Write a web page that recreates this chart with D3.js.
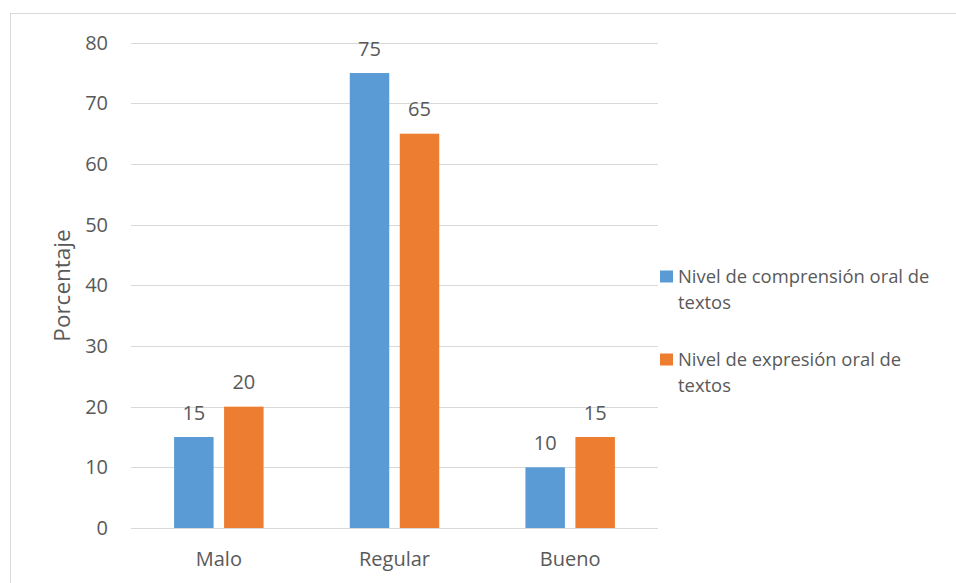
<!DOCTYPE html>
<html><head><meta charset="utf-8">
<script src="https://cdn.jsdelivr.net/npm/d3@7"></script>
<style>body{margin:0;background:#fff}svg{display:block}text{font-family:"Open Sans",sans-serif;fill:#595959}</style>
</head><body><svg id="c" width="956" height="583"></svg>
<script>
const categories = ["Malo", "Regular", "Bueno"];
const seriesNames = ["Nivel de comprensión oral de textos", "Nivel de expresión oral de textos"];
const comprension = [15, 75, 10];
const expresion = [20, 65, 15];
const yTicks = [0, 10, 20, 30, 40, 50, 60, 70, 80];
const colors = ["#5b9bd5", "#ed7d31"];
const legendLines = [["Nivel de comprensión oral de", "textos"], ["Nivel de expresión oral de", "textos"]];

const svg = d3.select("#c");
svg.append("rect").attr("x", 10.5).attr("y", 13.5).attr("width", 960).attr("height", 600)
  .attr("fill", "none").attr("stroke", "#d9d9d9");

const pLeft = 131, pRight = 658, pTop = 42.7, pBottom = 528;
const x = d3.scaleBand().domain(categories).range([pLeft, pRight]);
const y = d3.scaleLinear().domain([0, 80]).range([pBottom, pTop]);
const xs = d3.scaleBand().domain([0, 1]).range([0, x.bandwidth()]).paddingInner(0.21).paddingOuter(0.862);

const g = svg.append("g");
g.selectAll("line.grid").data(yTicks).join("line")
  .attr("x1", pLeft).attr("x2", pRight)
  .attr("y1", d => Math.round(y(d)) + 0.5).attr("y2", d => Math.round(y(d)) + 0.5)
  .attr("stroke", "#d9d9d9").attr("stroke-width", 1);

g.selectAll("text.yt").data(yTicks).join("text")
  .attr("x", 108).attr("y", d => y(d)).attr("dy", "0.35em")
  .attr("text-anchor", "end").attr("font-size", 20).text(d => d);

const series = [comprension, expresion];
series.forEach((vals, si) => {
  g.selectAll("rect.s" + si).data(categories).join("rect")
    .attr("x", (c) => x(c) + xs(si)).attr("width", xs.bandwidth())
    .attr("y", (c, i) => y(vals[i])).attr("height", (c, i) => y(0) - y(vals[i]))
    .attr("fill", colors[si]);
  g.selectAll("text.l" + si).data(categories).join("text")
    .attr("x", (c) => x(c) + xs(si) + xs.bandwidth() / 2)
    .attr("y", (c, i) => y(vals[i]) - 17.5)
    .attr("text-anchor", "middle").attr("font-size", 20).text((c, i) => vals[i]);
});

g.selectAll("text.xt").data(categories).join("text")
  .attr("x", c => x(c) + x.bandwidth() / 2).attr("y", 566)
  .attr("text-anchor", "middle").attr("font-size", 20).text(c => c);

svg.append("text").attr("transform", "translate(70,285.5) rotate(-90)")
  .attr("text-anchor", "middle").attr("font-size", 22.5).text("Porcentaje");

const legY = [283, 366];
legendLines.forEach((lines, i) => {
  svg.append("rect").attr("x", 660).attr("y", legY[i] - 12.5).attr("width", 13).attr("height", 12).attr("fill", colors[i]);
  lines.forEach((t, j) => {
    svg.append("text").attr("x", 678).attr("y", legY[i] + j * 26).attr("font-size", 18.4).text(t);
  });
});
</script></body></html>
